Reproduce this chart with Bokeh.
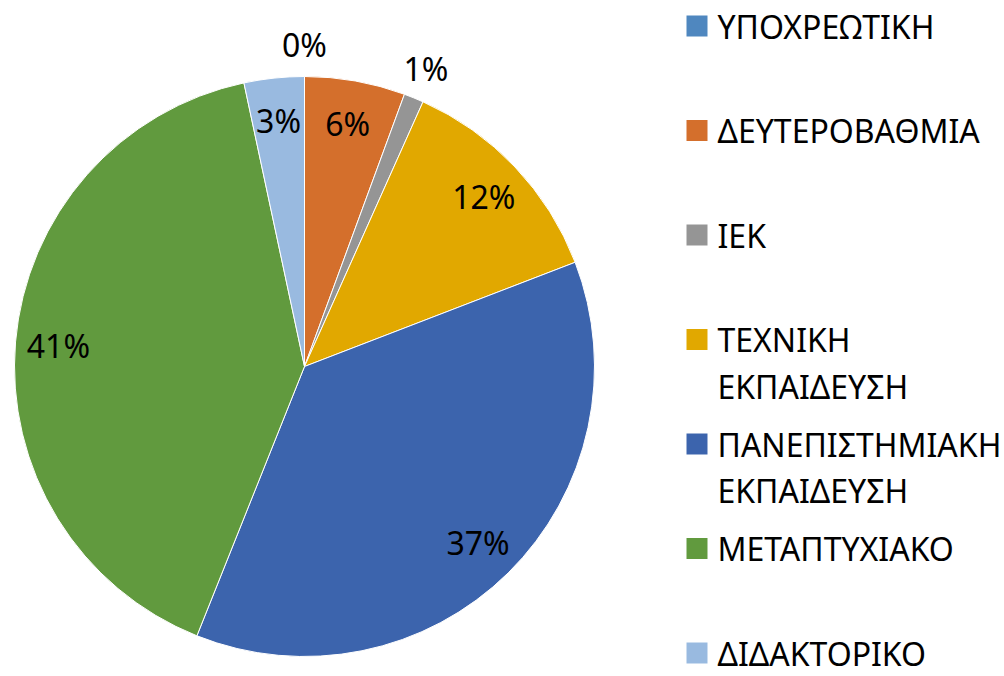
import numpy as np
from bokeh.plotting import figure
from bokeh.models import Range1d, ColumnDataSource
from bokeh.embed import file_html
from bokeh.resources import INLINE
from bokeh.core.properties import value

# ---- data ----
categories = ["ΥΠΟΧΡΕΩΤΙΚΗ", "ΔΕΥΤΕΡΟΒΑΘΜΙΑ", "ΙΕΚ", "ΤΕΧΝΙΚΗ ΕΚΠΑΙΔΕΥΣΗ",
              "ΠΑΝΕΠΙΣΤΗΜΙΑΚΗ ΕΚΠΑΙΔΕΥΣΗ", "ΜΕΤΑΠΤΥΧΙΑΚΟ", "ΔΙΔΑΚΤΟΡΙΚΟ"]
shares = [0.0, 5.6, 1.1, 12.45, 36.9, 40.6, 3.35]
colors = ["#4F87BF", "#D46F2C", "#959595", "#E1A800", "#3C64AD", "#619A3E", "#99BAE0"]

# ---- layout ----
W, H = 1004, 676
FONT = "Noto Sans"
cx, cy, R = 304, 310, 290

p = figure(width=W, height=H, x_range=Range1d(0, W), y_range=Range1d(0, H),
           output_backend="svg", toolbar_location=None, min_border=0)
p.axis.visible = False
p.grid.visible = False
p.outline_line_color = None
p.background_fill_color = "white"

vals = np.array(shares, dtype=float)
frac = vals / vals.sum()
cum_end = np.cumsum(frac)
cum_start = cum_end - frac
start = np.pi / 2 - 2 * np.pi * cum_start
end = np.pi / 2 - 2 * np.pi * cum_end

mask = vals > 0
wsrc = ColumnDataSource(dict(start=start[mask], end=end[mask],
                             color=[c for c, m in zip(colors, mask) if m]))
p.wedge(x=cx, y=cy, radius=R, start_angle="start", end_angle="end",
        direction="clock", fill_color="color", line_color="white",
        line_width=1, source=wsrc)

# data labels
mid = (start + end) / 2
lx, ly, lt = [], [], []
for v, a in zip(vals, mid):
    r = 247 if v >= 2 else 322
    lx.append(cx + r * np.cos(a))
    ly.append(cy + r * np.sin(a))
    lt.append(f"{round(v)}%")
p.text(x=lx, y=ly, text=lt, text_align="center", text_baseline="middle",
       text_font=value(FONT), text_font_size="32px", text_color="black")

# legend
sq_x, sq = 686, 21
tx = 717
top_y, step, line_gap = 676 - 25.5, 104.5, 46.5
rx, ry, rc = [], [], []
tx_l, ty_l, tt_l = [], [], []
for i, (cat, col) in enumerate(zip(categories, colors)):
    yc = top_y - i * step
    rx.append(sq_x + sq / 2)
    ry.append(yc)
    rc.append(col)
    for j, part in enumerate(cat.split(" ")):
        tx_l.append(tx)
        ty_l.append(yc - j * line_gap)
        tt_l.append(part)
p.rect(x=rx, y=ry, width=sq, height=sq, fill_color=rc, line_color=None)
p.text(x=tx_l, y=ty_l, text=tt_l, text_align="left", text_baseline="middle",
       text_font=value(FONT), text_font_size="32px", text_color="black")

open("out.html", "w").write(file_html(p, INLINE))
